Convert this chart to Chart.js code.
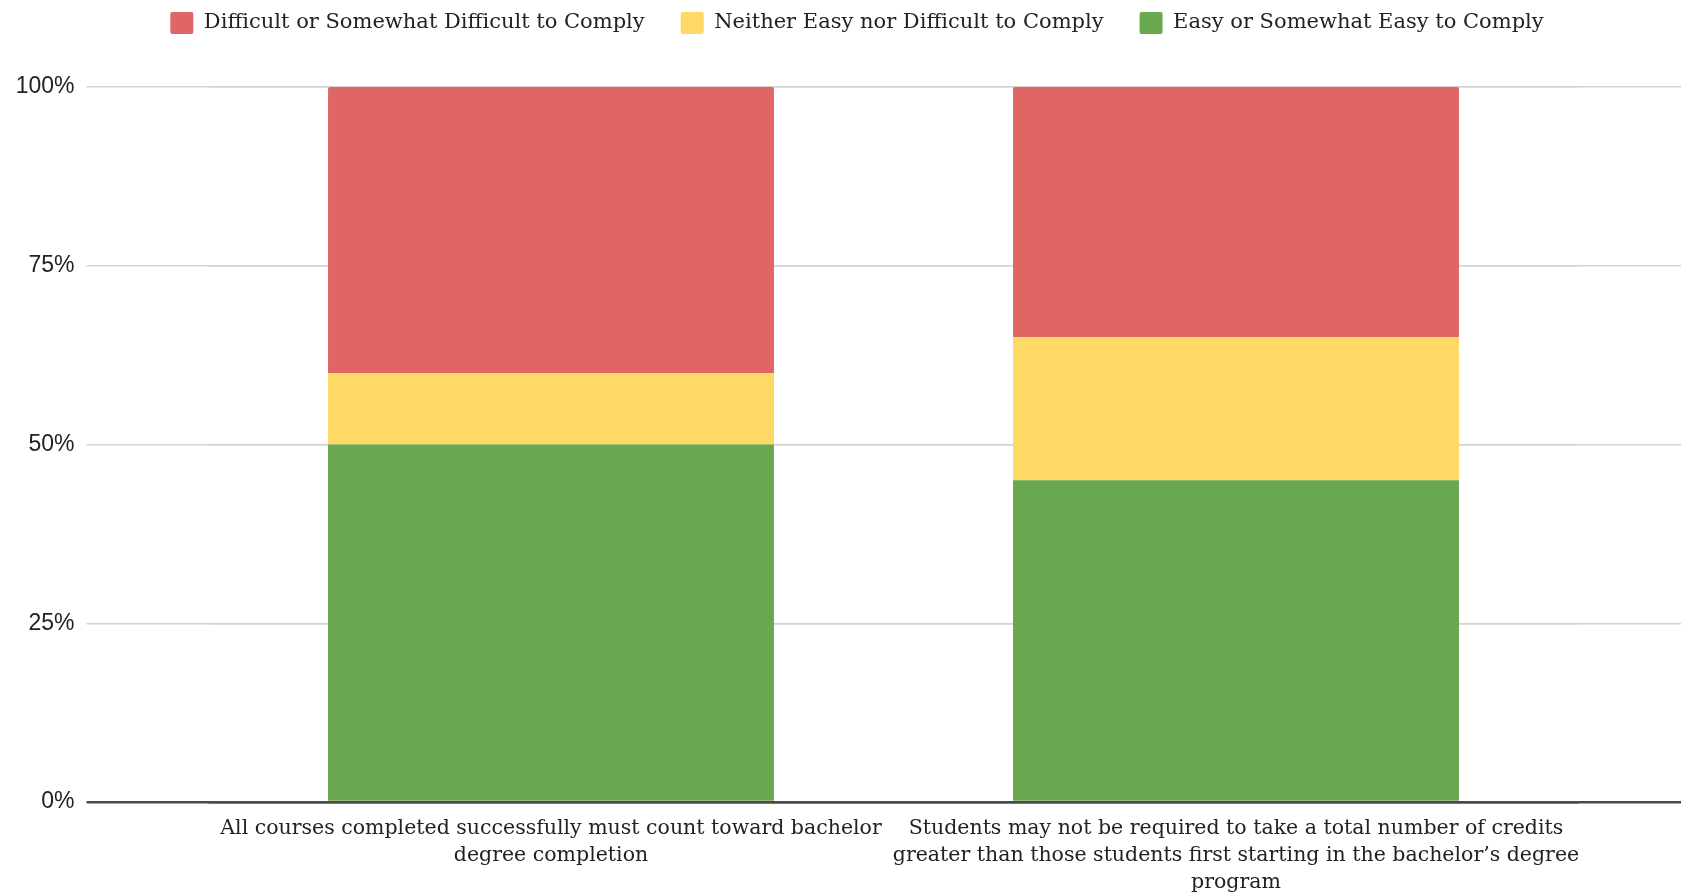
<!DOCTYPE html>
<html lang="en">
<head>
<meta charset="utf-8">
<title>Compliance chart</title>
<script src="https://cdn.jsdelivr.net/npm/chart.js@4.4.1/dist/chart.umd.min.js"></script>
<style>
    html, body { margin: 0; padding: 0; background: #ffffff; overflow: hidden; }
    #chart-box { width: 1681px; height: 894px; }
</style>
</head>
<body>
<div id="chart-box"><canvas id="compliance-chart"></canvas></div>
<script>
// Données du graphique
const categories = [
    ['All courses completed successfully must count toward bachelor', 'degree completion'],
    ['Students may not be required to take a total number of credits', 'greater than those students first starting in the bachelor\u2019s degree', 'program']
];
const seriesNames = ['Easy or Somewhat Easy to Comply', 'Neither Easy nor Difficult to Comply', 'Difficult or Somewhat Difficult to Comply'];
const easyValues = [50, 45];
const neitherValues = [10, 20];
const difficultValues = [40, 35];
const yTickValues = [0, 25, 50, 75, 100];

// Couleurs
const colors = ['#6aa84f', '#ffd966', '#e06666'];
const gridColor = '#d3d3d3';
const baseColor = '#4a4a4a';

// Couleur de la grille selon la valeur (0% plus foncé)
function lineColor(ctx) {
    return ctx.tick && ctx.tick.value === 0 ? baseColor : gridColor;
}
function lineWidth(ctx) {
    return ctx.tick && ctx.tick.value === 0 ? 2.5 : 1.5;
}

function initChart() {
    const ctx = document.getElementById('compliance-chart').getContext('2d');

    const datasets = [easyValues, neitherValues, difficultValues].map((values, i) => ({
        label: seriesNames[i],
        data: values,
        backgroundColor: colors[i],
        borderWidth: 0,
        borderRadius: i === 2 ? 2 : 0,
        categoryPercentage: 1,
        barPercentage: 0.651
    }));

    new Chart(ctx, {
        type: 'bar',
        data: {
            labels: categories,
            datasets: datasets
        },
        options: {
            responsive: true,
            maintainAspectRatio: false,
            animation: false,
            // marges négatives pour décaler la légende comme sur l'original
            layout: {
                padding: { left: 0, right: -33, top: -24, bottom: 0 }
            },
            plugins: {
                tooltip: { enabled: false },
                legend: {
                    position: 'top',
                    reverse: true,
                    labels: {
                        boxWidth: 23,
                        boxHeight: 22,
                        padding: 36,
                        color: '#222222',
                        useBorderRadius: true,
                        borderRadius: 2,
                        font: { family: "'DejaVu Serif', serif", size: 21 }
                    }
                }
            },
            scales: {
                x: {
                    stacked: true,
                    grid: { display: false },
                    border: { display: false },
                    ticks: {
                        color: '#222222',
                        padding: 5.5,
                        maxRotation: 0,
                        autoSkip: false,
                        font: { family: "'DejaVu Serif', serif", size: 20.5, lineHeight: '27px' }
                    },
                    afterFit: scale => { scale.height = 92; }
                },
                xTop: {
                    type: 'category',
                    position: 'top',
                    grid: { display: false },
                    border: { display: false },
                    ticks: { display: false },
                    afterFit: scale => { scale.height = 43; }
                },
                y: {
                    stacked: true,
                    min: 0,
                    max: 100,
                    afterBuildTicks: scale => { scale.ticks = yTickValues.map(v => ({ value: v })); },
                    grid: {
                        color: lineColor,
                        lineWidth: lineWidth,
                        drawTicks: true,
                        tickLength: 122
                    },
                    border: { display: false },
                    ticks: {
                        color: '#222222',
                        padding: 12,
                        font: { family: "'Liberation Sans', Arial, sans-serif", size: 23 },
                        callback: value => value + '%'
                    },
                    afterFit: scale => { scale.width = 208.5; }
                },
                yRight: {
                    position: 'right',
                    min: 0,
                    max: 100,
                    afterBuildTicks: scale => { scale.ticks = yTickValues.map(v => ({ value: v })); },
                    grid: {
                        color: lineColor,
                        lineWidth: lineWidth,
                        drawOnChartArea: true,
                        drawTicks: true,
                        tickLength: 136
                    },
                    border: { display: false },
                    ticks: { display: false },
                    afterFit: scale => { scale.width = 135.5; }
                }
            }
        }
    });
}

window.onload = function() {
    initChart();
};
</script>
</body>
</html>
